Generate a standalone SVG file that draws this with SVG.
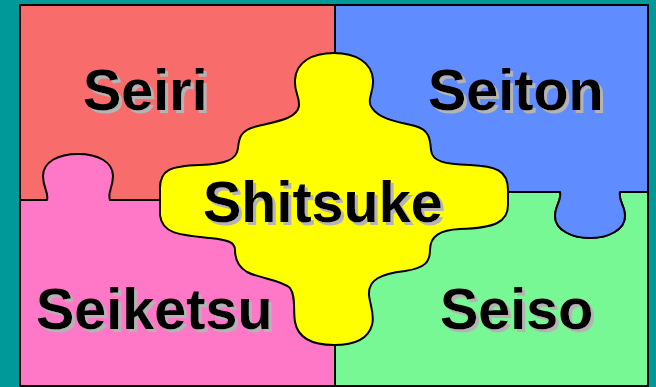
<svg xmlns="http://www.w3.org/2000/svg" width="656" height="387" viewBox="0 0 656 387">
<defs>
<filter id="shadow" x="-10%" y="-20%" width="130%" height="150%">
<feFlood flood-color="#B4B4B4" result="c"/>
<feComposite in="c" in2="SourceAlpha" operator="in" result="s"/>
<feOffset in="s" dx="2.5" dy="2.5" result="o"/>
<feMerge><feMergeNode in="o"/><feMergeNode in="SourceGraphic"/></feMerge>
</filter>
</defs>
<style>
.piece{stroke:#000;stroke-width:2;stroke-linejoin:round}
.lbl{font-family:"Liberation Sans",Arial,sans-serif;font-weight:bold;font-size:57.5px;fill:#000;filter:url(#shadow)}
</style>
<rect x="0" y="0" width="656" height="387" fill="#009999"/>
<g id="seiri">
<rect class="piece" x="20" y="5" width="315" height="195" fill="#F86C6C"/>
<text class="lbl" x="83" y="110">Seiri</text>
</g>
<g id="seiketsu">
<path class="piece" fill="#FF78C8" d="M20,200 L47,200 C49,193 43,188 43,176 C43,162 58,154 78,154 C98,154 113,162 113,176 C113,188 107,193 110,200 L335,200 L335,386 L20,386 Z"/>
<text class="lbl" x="36" y="329">Seiketsu</text>
</g>
<g id="seiso">
<path class="piece" fill="#78F894" d="M335,192 L560,192 C562,200 555,206 555,216 C555,230 572,238 590,238 C608,238 625,230 625,216 C625,206 618,200 620,192 L648,192 L648,386 L335,386 Z"/>
<text class="lbl" x="440" y="329">Seiso</text>
</g>
<g id="seiton">
<path class="piece" fill="#5F8CFF" d="M335,5 L648,5 L648,192 L620,192 C618,200 625,206 625,216 C625,230 608,238 590,238 C572,238 555,230 555,216 C555,206 562,200 560,192 L335,192 Z"/>
<text class="lbl" x="428" y="110">Seiton</text>
</g>
<g id="shitsuke">
<path class="piece" fill="#FFFF00" d="M334,53 C355,53 372,62 373,80 C374,92 366,100 372,108 C380,120 400,122 415,126 C430,130 430,140 431,150 C432,162 445,164 470,165 C495,166 508,170 508,190 L508,205 C508,222 495,228 460,229 C440,230 430,236 430,250 C430,262 425,268 405,271 C380,274 368,280 369,295 C370,305 375,315 372,325 C368,340 352,345 334,345 C312,345 298,338 295,322 C293,310 296,296 290,288 C282,280 258,278 247,272 C237,266 235,258 235,250 C235,242 228,240 210,238 C180,235 162,234 160,215 L160,188 C160,170 170,166 200,165 C225,164 237,160 238,148 C239,138 240,130 258,126 C280,121 297,118 299,106 C300,97 294,92 295,80 C296,62 312,53 334,53 Z"/>
<text class="lbl" x="203" y="222">Shitsuke</text>
</g>
<g id="connectors"/>
</svg>
